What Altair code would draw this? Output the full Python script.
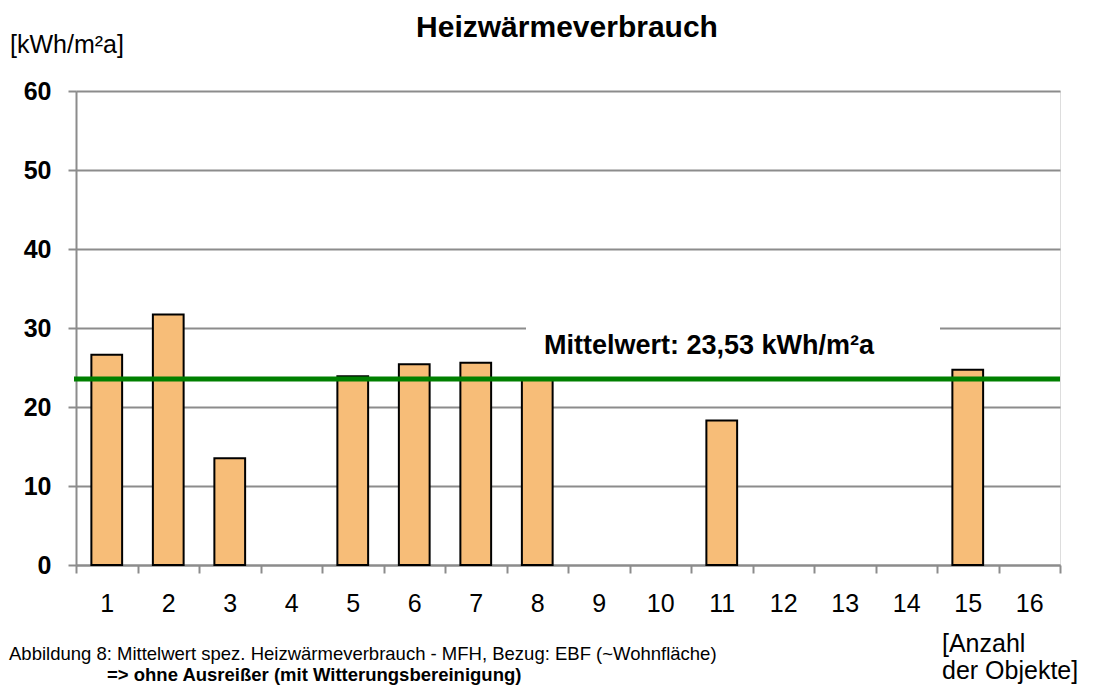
import altair as alt
import pandas as pd

categories = [str(i) for i in range(1, 17)]
values = [26.6, 31.7, 13.5, None, 23.9, 25.4, 25.6, 23.5, None, None, 18.3, None, None, None, 24.7, None]
mean_value = 23.53
y_ticks = [0, 10, 20, 30, 40, 50, 60]

title_text = "Heizwärmeverbrauch"
y_unit_text = "[kWh/m²a]"
mean_label = "Mittelwert: 23,53 kWh/m²a"
x_unit_lines = ["[Anzahl", "der Objekte]"]
caption_line1 = "Abbildung 8: Mittelwert spez. Heizwärmeverbrauch - MFH, Bezug: EBF (~Wohnfläche)"
caption_line2 = "=> ohne Ausreißer (mit Witterungsbereinigung)"

FONT = "Liberation Sans"
GRAY = "#8c8c8c"

df = pd.DataFrame({"Objekt": categories, "Wert": values})

W, H = 984, 474

bars = alt.Chart(df).mark_bar(
    fill="#F7BD78", stroke="black", strokeWidth=2,
    width=alt.RelativeBandSize(0.5),
).encode(
    x=alt.X(
        "Objekt:N", sort=categories,
        scale=alt.Scale(paddingInner=0, paddingOuter=0),
        axis=alt.Axis(
            title=None, labelAngle=0, labelFont=FONT, labelFontSize=25,
            labelColor="black", labelPadding=18, tickBand="extent",
            tickSize=8, tickWidth=2, tickColor=GRAY,
            domainColor=GRAY, domainWidth=2, grid=False,
        ),
    ),
    y=alt.Y(
        "Wert:Q", scale=alt.Scale(domain=[0, 60], nice=False),
        axis=alt.Axis(
            title=None, values=y_ticks, labelFont=FONT, labelFontSize=25,
            labelFontWeight="bold", labelColor="black", labelPadding=17,
            tickSize=8, tickWidth=2, tickColor=GRAY,
            domainColor=GRAY, domainWidth=2,
            grid=True, gridColor=GRAY, gridWidth=2,
        ),
    ),
)

one = alt.Data(values=[{"k": 1}])

white_box = alt.Chart(one).mark_rect(fill="white").encode(
    x=alt.value(450), x2=alt.value(864), y=alt.value(226), y2=alt.value(258)
)

mean_df = pd.DataFrame({"m": [mean_value]})
mean_rule = alt.Chart(mean_df).mark_rule(color="#008000", strokeWidth=5).encode(
    y="m:Q", x=alt.value(-2), x2=alt.value(W)
)

def txt(text, x, y, size, weight="normal", align="left", baseline="alphabetic"):
    return alt.Chart(one).mark_text(
        text=text, font=FONT, fontSize=size, fontWeight=weight,
        align=align, baseline=baseline, color="black"
    ).encode(x=alt.value(x), y=alt.value(y))

texts = [
    txt(title_text, 491, -54, 30, "bold", "center"),
    txt(y_unit_text, -66, -38, 25),
    txt(mean_label, 468, 263, 27, "bold"),
    txt(x_unit_lines[0], 866, 561, 25),
    txt(x_unit_lines[1], 866, 588, 25),
    txt(caption_line1, -67, 569, 18.5),
    txt(caption_line2, 31, 590, 18.5, "bold"),
]

chart = alt.layer(bars, white_box, *texts, mean_rule).properties(
    width=W, height=H,
    autosize=alt.AutoSizeParams(type="none"),
    padding={"left": 68, "top": 83, "right": 26, "bottom": 120},
).configure_view(stroke=None).configure(background="white")

chart.save("out.html", embed_options={"renderer": "svg", "actions": False})
